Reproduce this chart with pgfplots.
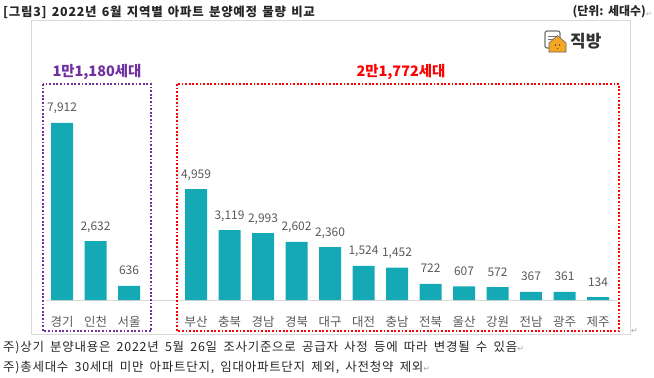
\documentclass[border=0pt]{standalone}
\usepackage{pgfplots}
\pgfplotsset{compat=1.18}
\usepackage{fontspec}
\setmainfont{Noto Sans CJK KR}
\newfontfamily\dejavu{DejaVu Sans}
\newfontfamily\widekr[LetterSpace=6]{Noto Sans CJK KR}
\newcommand\titlefont{\widekr\fontsize{12.5}{14}\selectfont\bfseries\spaceskip=0.42em\relax}
\newcommand\unitfont{\fontsize{12}{14}\selectfont\bfseries\spaceskip=0.3em\relax}
\newcommand\notefont{\widekr\fontsize{12.5}{14}\selectfont\spaceskip=0.5em\relax}
\newcommand\pmark{\textcolor{black!35}{\dejavu\fontsize{8}{9}\selectfont ↵}}
\definecolor{barc}{HTML}{14A9B5}
\definecolor{txtgray}{HTML}{595959}
\definecolor{purp}{HTML}{7030A0}
\definecolor{redc}{HTML}{FF0000}
\definecolor{logoor}{HTML}{F5A623}
\begin{document}
\begin{tikzpicture}
\path[use as bounding box] (0,0) rectangle (654bp,-378bp);
\begin{scope}[x=1bp,y=-1bp]
  % title
  \node[anchor=west, inner sep=0, font=\titlefont, text=black!85] at (3,12) {[그림3] 2022년 6월 지역별 아파트 분양예정 물량 비교};
  \node[anchor=east, inner sep=0, font=\unitfont, text=black!85] at (646,12) {(단위: 세대수)};
  \node[anchor=west, inner sep=0, text=black!35, font=\dejavu\fontsize{7}{8}\selectfont] at (646,14) {↵};
  % frame
  \draw[black!15, line width=0.8bp] (31,20) rectangle (630,334);
  % logo
  \draw[black!55, line width=1.2bp, rounded corners=2bp, fill=white] (545,31) rectangle (560,48);
  \draw[black!55, line width=0.8bp] (548,36) -- (556,36) (548,39) -- (554,39);
  \fill[logoor, draw=black!60, line width=0.6bp] (549,43) -- (557.5,35.5) -- (566,43) -- (566,52) -- (549,52) -- cycle;
  \fill[black!70] (555.5,45) circle (0.9) (559.5,45) circle (0.9) (557.5,48.5) circle (0.6);
  \node[anchor=west, inner sep=0, font=\fontsize{17}{18}\selectfont\bfseries, text=black!80] at (570,41) {직방};
  % group totals
  \node[font=\fontsize{14.5}{16}\selectfont\bfseries, text=purp] at (97,72) {1만1,180세대};
  \node[font=\fontsize{14.5}{16}\selectfont\bfseries, text=redc] at (401,72) {2만1,772세대};
  % baseline
  \draw[black!15, line width=0.8bp] (46,300) -- (618,300);
  % notes
  \node[anchor=west, inner sep=0, font=\notefont, text=black!85] at (3,348) {주)상기 분양내용은 2022년 5월 26일 조사기준으로 공급자 사정 등에 따라 변경될 수 있음\pmark};
  \node[anchor=west, inner sep=0, font=\notefont, text=black!85] at (3,368) {주)총세대수 30세대 미만 아파트단지, 임대아파트단지 제외, 사전청약 제외\pmark};
  \node[anchor=west, inner sep=0, text=black!35, font=\dejavu\fontsize{8}{9}\selectfont] at (631,331) {↵};
\end{scope}
\begin{axis}[
  at={(45.25bp,-300bp)}, anchor=south west,
  scale only axis, width=569.5bp, height=179bp,
  xmin=-0.5, xmax=16.5, ymin=0, ymax=8000,
  axis lines=none, clip=false,
  /pgf/number format/1000 sep={,},
  /pgf/number format/assume math mode=true,
]
\addplot[ybar, fill=barc, draw=none, bar width=22bp,
  nodes near coords,
  every node near coord/.append style={anchor=base, yshift=11bp, inner sep=0pt,
    font=\fontsize{12}{14}\selectfont, text=txtgray}]
  coordinates {(0,7912) (1,2632) (2,636) (4,4959) (5,3119) (6,2993) (7,2602) (8,2360)
    (9,1524) (10,1452) (11,722) (12,607) (13,572) (14,367) (15,361) (16,134)};
\foreach \p/\n in {0/경기,1/인천,2/서울,4/부산,5/충북,6/경남,7/경북,8/대구,9/대전,10/충남,11/전북,12/울산,13/강원,14/전남,15/광주,16/제주}{
  \edef\temp{\noexpand\node[anchor=base, inner sep=0, font=\noexpand\fontsize{12.5}{14}\noexpand\selectfont, text=txtgray] at (axis cs:\p,0) [yshift=-26bp] {\n};}
  \temp
}
\end{axis}
\begin{scope}[x=1bp,y=-1bp]
  \draw[purp, line width=1.8bp, dash pattern=on 1.8bp off 1.8bp] (43,84) rectangle (151,331);
  \draw[redc, line width=1.8bp, dash pattern=on 1.8bp off 1.8bp] (177,84) rectangle (619,331);
\end{scope}
\end{tikzpicture}
\end{document}
